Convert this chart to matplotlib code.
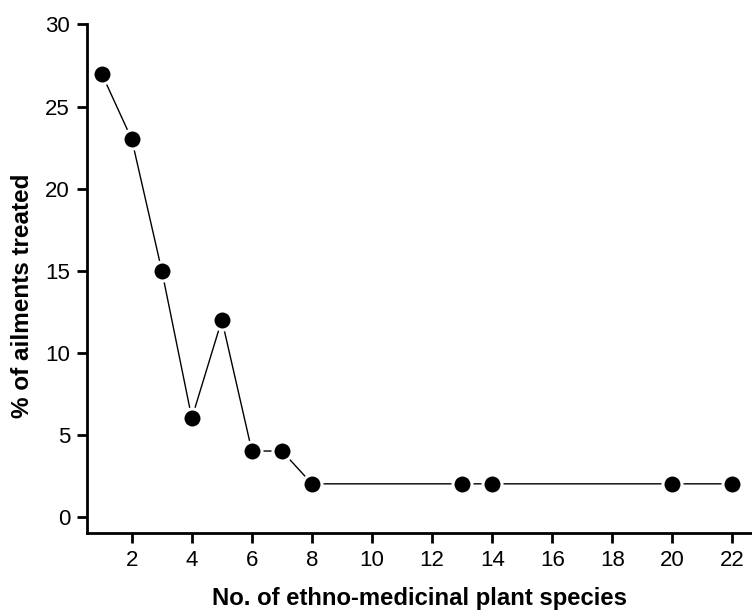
import matplotlib
matplotlib.use('Agg')
import matplotlib.pyplot as plt

# Number of plant species vs share of ailments treated
species_counts = [1, 2, 3, 4, 5, 6, 7, 8, 13, 14, 20, 22]
pct_ailments = [27, 23, 15, 6, 12, 4, 4, 2, 2, 2, 2, 2]
x_ticks = [2, 4, 6, 8, 10, 12, 14, 16, 18, 20, 22]
y_ticks = [0, 5, 10, 15, 20, 25, 30]

plt.rcParams['font.family'] = ['Liberation Sans', 'DejaVu Sans']

fig = plt.figure(figsize=(7.52, 6.12), dpi=100)
ax = fig.add_axes([0.1153, 0.129, 0.8847, 0.831])

# white marker edge leaves a small gap where the line meets each dot
ax.plot(species_counts, pct_ailments, color='black', linewidth=1.0,
        marker='o', markersize=13.7, markerfacecolor='black',
        markeredgecolor='white', markeredgewidth=2.2, clip_on=False)

ax.set_xlim(0.5, 22.65)
ax.set_ylim(-1, 30)
ax.set_xticks(x_ticks)
ax.set_yticks(y_ticks)

for side in ['top', 'right']:
    ax.spines[side].set_visible(False)
for side in ['left', 'bottom']:
    ax.spines[side].set_linewidth(2)

ax.tick_params(direction='out', length=7, width=2, labelsize=16, pad=5)

ax.set_xlabel('No. of ethno-medicinal plant species', fontsize=17.2,
              fontweight='bold', labelpad=12)
ax.set_ylabel('% of ailments treated', fontsize=17.5, fontweight='bold',
              labelpad=8)
ax.yaxis.set_label_coords(-0.079, 0.467)

fig.savefig('out.png', dpi=100)
